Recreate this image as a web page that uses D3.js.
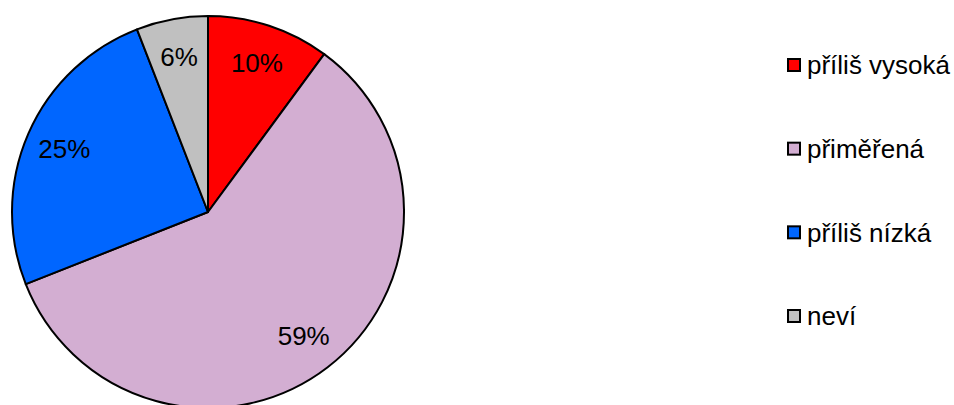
<!DOCTYPE html>
<html>
<head>
<meta charset="utf-8">
<script src="https://cdn.jsdelivr.net/npm/d3@7"></script>
<style>
  body { margin: 0; background: #fff; }
  svg { display: block; font-family: "Liberation Sans", Arial, Helvetica, sans-serif; }
</style>
</head>
<body>
<svg id="svg" width="954" height="405"></svg>
<script>
var categories = ['příliš vysoká', 'přiměřená', 'příliš nízká', 'neví'];
var values = [10.1, 58.9, 25.1, 5.9];
var labels = ['10%', '59%', '25%', '6%'];
var colors = ['#FF0000', '#D3AED2', '#0066FF', '#C0C0C0'];

var svg = d3.select('#svg');

var center = {x: 208, y: 212};
var radius = 196;

var data = categories.map(function(c, i){
    return {name: c, value: values[i], label: labels[i], color: colors[i]};
});

var pie = d3.pie()
    .sort(null)
    .value(function(d){ return d.value; });

var arc = d3.arc().innerRadius(0).outerRadius(radius);
var labelArc = d3.arc().innerRadius(radius * 0.8).outerRadius(radius * 0.8);

var pieGrp = svg.append('g')
    .attr('transform', 'translate(' + center.x + ',' + center.y + ')');

var slices = pie(data);

pieGrp.selectAll('path').data(slices).enter()
    .append('path')
    .attr('d', arc)
    .attr('fill', function(d){ return d.data.color; })
    .attr('stroke', '#000')
    .attr('stroke-width', 2)
    .attr('stroke-linejoin', 'round');

pieGrp.selectAll('text').data(slices).enter()
    .append('text')
    .attr('transform', function(d){ return 'translate(' + labelArc.centroid(d) + ')'; })
    .attr('text-anchor', 'middle')
    .attr('dy', '0.33em')
    .attr('font-size', 26)
    .attr('fill', '#000')
    .text(function(d){ return d.data.label; });

// legend
var legendY = d3.scalePoint()
    .domain(categories)
    .range([65, 316]);

var legend = svg.append('g');

var rows = legend.selectAll('g').data(data).enter()
    .append('g')
    .attr('transform', function(d){ return 'translate(787,' + legendY(d.name) + ')'; });

rows.append('rect')
    .attr('x', 1)
    .attr('y', -6)
    .attr('width', 12)
    .attr('height', 12)
    .attr('fill', function(d){ return d.color; })
    .attr('stroke', '#000')
    .attr('stroke-width', 2);

rows.append('text')
    .attr('x', 20)
    .attr('y', 0)
    .attr('dy', '0.36em')
    .attr('font-size', 26)
    .attr('fill', '#000')
    .text(function(d){ return d.name; });
</script>
</body>
</html>
